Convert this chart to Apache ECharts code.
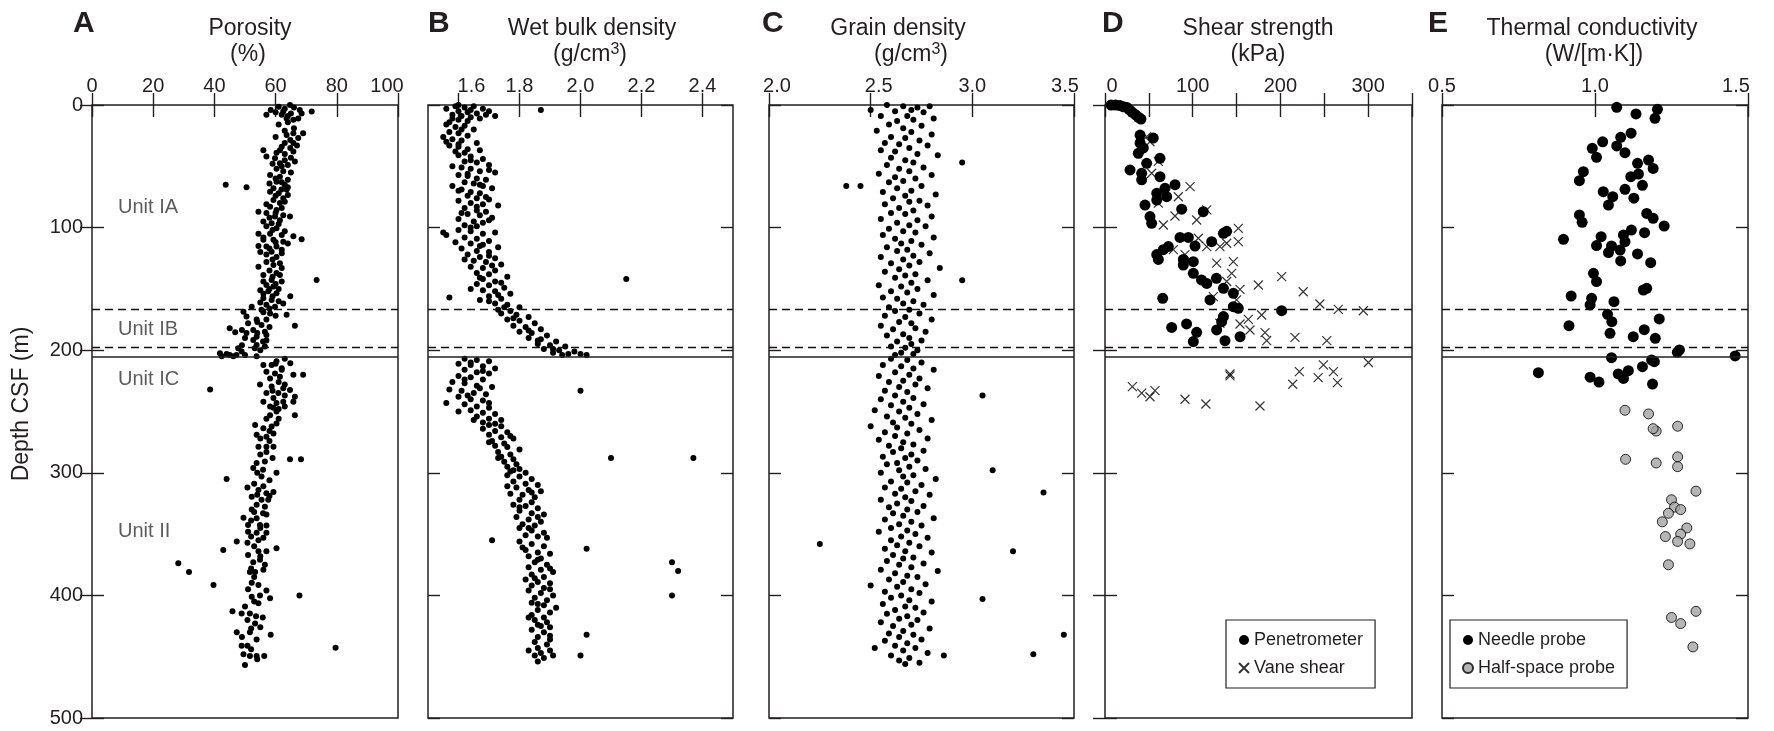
<!DOCTYPE html>
<html>
<head>
<meta charset="utf-8">
<script src="https://cdn.jsdelivr.net/npm/echarts@6/dist/echarts.min.js"></script>
<style>
html,body{margin:0;padding:0;background:#fff;}
#chart{width:1774px;height:731px;}
</style>
</head>
<body>
<div id="chart"></div>
<script>
// ---- Measurements: [value, depth (m CSF)] ----
const porosity = [
[61,1.4],[64.7,0],[67.9,4],[71.8,5.4],[57,8],[58.4,4],[62,8],[65.8,12],[63.6,11],[67.4,11],[62.5,5.4],[65,7],[68.5,7],[64,14],
[65.8,23],[69,23],[63.6,24.5],[67.4,27],[64.8,28.5],[63,31],[65.8,31],[62,34],[64.8,35],[61.4,37],[65.8,38],[56,37],[60.3,39],
[57,42],[59.8,43.5],[63,45],[66.3,46],[61.4,47.6],[64,49],[60.3,52],[62.5,54],[58.2,57],[61.4,58.5],[64,61],[60.3,62.5],[63,65],[59.3,68],[61.9,69],[58.2,70.7],[63.6,69],
[43.7,65],[50.5,67],
[61,72],[64,73.4],[62.5,76],[59.3,77.5],[61.4,80],[58.2,83],[60.3,85.6],[54.4,87],[57,88],[62.5,90],[59.8,91],[64.7,91],[56,95],[58.7,96.5],[61.4,94],[57,99],[60.3,100.6],
[54.4,105],[58.2,105],[62,106],[65.8,107],[68.5,109.6],[56,110],[59.3,110],[62.5,111.5],[54.4,115],[57,115.5],[60.3,115.5],[58.7,119.6],[62,118],[57,122],[60.3,124],[61.4,129],[59.3,130.5],
[73.4,142.7],
[54.4,132],[56,138.7],[60.3,137],[61.4,138.7],[58.7,142.7],[57,146.8],[59.3,148],[55,151],[57.6,152],[60.3,153.6],[56,157.7],[64.8,156],[58.7,159],[62.5,162],[57,163],[59.8,164.5],[52.2,164.5],
[49.5,168.6],[55.4,167],[58.2,170],[63.6,171],[50.5,172.6],[53.8,175],[57,175],[51,178],[55.4,179.5],[66.3,180],[45,182],[49,183.5],[52.7,183.5],[56.5,185],[46.8,185.4],[50.5,186],[53.8,189],[57,187.6],[52.7,191.7],[55.9,193],[53.8,195.8],[56.5,197],[53.2,198.5],
[47.8,198.5],[41.8,202.5],[45,204],[47.2,204],[48.9,201],[42.4,205],[46.2,205],[50,204],[53.8,205],
[63,207],[60.3,209],[56,212],[58.7,212],[64.8,210.7],[62,214.8],[57,217.5],[59.8,219],[65.8,220],[69,220],[58.2,223],[61.4,221.6],[54.9,228],[58.7,229.7],[62.5,231],[38.6,232],[57,235],[60.9,235],[64.7,232.5],[66.3,238],[59.3,239],[56,242],[62.5,242],[65.8,242],[58.2,246],[60.3,250],[66.3,253],[58.2,253],
[60.3,243],[59.3,247],[60.3,259.7],[53.3,261],[56,263.7],[58.7,262.3],[53.8,269],[57,270.5],[59.3,268],[54.4,278.7],[57,278.7],[59.3,278.7],[57,283],[64.7,289],[68.3,289],[53.8,292],[56.5,290.7],[52.7,296],[55.9,297.6],[60.3,300],[55.4,303],[44,305],[50.8,312],[54.4,314],[57,316.7],[59.3,315.6],[52.2,319.5],[55.4,322],[57.6,322],[53.8,326],[56.5,327.6],[52.2,330],[55.9,333],[49.5,336.6],[53.8,337],[51,342.6],[54.9,342.6],[57,343],[51,348],[53.8,349],[57,349],[50.8,357],[54.4,355],[47.3,356],[42.9,363],[60.3,361.6],[54.4,364],[57,364],[54.9,371],[56.5,375],[52.7,373],[28.2,373.8],[31.7,381],[51.6,381],[53.3,381],[39.7,391.5],[52.2,389.6],[54.4,391.5],[52.2,401],[54.9,400],[58.2,402.3],[67.8,400],[54.4,406.5],[45.9,413],[48.9,414.7],[51.6,414.7],[53.6,417],[50.8,420],[55.8,418],[53.3,423],[47.3,430],[51.6,430],[58.4,432],[53.8,436],[48.9,441],[50.8,441],[79.6,442.6],[49.5,448],[51.6,449.4],[53.8,449.4],[56.3,449.4],[50,456.8],
[63,3],[66,2],[60,6],[64,9],[61,16],[66,19],[63,21],[60,26],[67,33],[63,40],[65,43],[59,48],[62,50],[65,55],[60,60],[62,63],[58,64],[64,67],[60,74],[63,79],[57,81],[62,84],[60,88],[58,92],[61,97],[59,102],[63,103],[56,108],[60,112],[64,113],[58,117],[55,120],[62,121],[59,126],[57,128],[62,133],[58,135],[59,140],[62,144],[56,144],[60,146],[58,150],[61,150],[56,154],[59,156],[61,160],[55,161],[58,166],[56,169],[60,172],[54,177],[58,181],[54,186],[50,190],[57,192],[49,196],[55,200],[44,203],
[60,211],[62,216],[61,226],[63,228],[59,233],[63,237],[61,248],[63,246],[57,256],[61,256],[58,266],[55,272],[58,274],[55,285],[59,288],[54,300],[58,306],[53,309],[56,311],[54,318],[58,319],[53,332],[57,334],[52,339],[55,345],[52,352],[56,353],[53,360],[51,367],[55,368],[52,378],[56,379],[53,385],[57,396],[51,395],[53,405],[50,409],[52,427],[49,434],[55,426],[52,444],[54,452]
];

const wetBulkDensity = [
[1.56,3],[1.59,1],[1.62,2],[1.65,1],[1.68,3],[1.6,5],[1.63,6],[1.66,7],[1.7,5],[1.58,8],[1.61,9],[1.64,10],[1.67,11],[1.72,9],[1.6,12],[1.63,13],[1.57,14],[1.87,4],
[1.56,16],[1.59,18],[1.62,17],[1.65,20],[1.57,22],[1.6,23],[1.63,25],[1.55,26],[1.58,28],[1.61,29],[1.66,31],[1.57,33],[1.6,34],[1.63,36],[1.59,38],[1.62,39],[1.67,37],
[1.6,41],[1.64,42],[1.68,44],[1.62,46],[1.66,47],[1.7,49],[1.61,51],[1.64,52],[1.67,54],[1.72,55],[1.6,57],[1.63,58],[1.66,60],[1.69,61],[1.62,63],[1.65,64],[1.58,66],[1.68,66],[1.71,68],[1.61,69],[1.64,71],[1.67,72],[1.63,74],[1.66,76],[1.7,77],[1.6,78],[1.64,80],[1.68,81],[1.73,82],[1.62,84],[1.66,86],[1.69,87],[1.63,89],[1.67,90],[1.71,92],[1.6,93],[1.65,95],[1.68,96],[1.62,98],[1.66,99],
[1.55,104],[1.56,106],[1.6,102],[1.64,103],[1.68,105],[1.72,104],[1.62,108],[1.66,109],[1.7,111],[1.64,113],[1.68,114],[1.73,116],[1.61,117],[1.66,119],[1.7,120],[1.63,122],[1.67,124],[1.72,125],[1.65,127],[1.69,128],[1.74,130],[1.64,132],[1.68,133],[1.72,135],[1.66,137],[1.7,138],[1.76,140],[1.68,142],[1.72,144],[1.66,146],[1.7,147],[1.75,149],[1.68,151],[1.72,152],[1.77,154],[1.7,156],[1.57,157],[1.74,158],[1.7,160],[2.15,142],
[1.72,162],[1.76,163],[1.8,165],[1.73,167],[1.77,168],[1.74,170],[1.79,171],[1.83,173],[1.76,175],[1.8,176],[1.85,178],[1.78,180],[1.82,181],[1.87,183],[1.8,185],[1.84,186],[1.89,188],[1.83,190],[1.87,191],[1.92,193],[1.86,195],[1.9,196],[1.95,197],[1.88,199],[1.93,200],[1.98,201],[1.91,202],[1.96,203],[2.0,203],[1.94,204],[2.02,204],
[1.62,207],[1.66,208],[1.7,209],[1.6,211],[1.64,212],[1.68,213],[1.72,215],[1.62,216],[1.66,218],[1.7,219],[1.6,221],[1.64,222],[1.68,224],[1.58,226],[1.62,227],[1.66,229],[1.71,230],[1.57,232],[1.61,233],[1.65,235],[1.69,236],[2.0,233],[1.6,238],[1.64,240],[1.68,241],[1.56,243],[1.62,244],[1.66,246],[1.7,247],[1.64,249],[1.68,251],[1.72,252],[1.66,254],[1.7,256],[1.74,257],[1.68,259],
[1.7,261],[1.74,262],[1.68,264],[1.72,266],[1.76,267],[1.7,269],[1.74,271],[1.78,272],[1.71,274],[1.75,276],[1.72,278],[1.76,279],[1.8,281],[1.73,283],[1.77,285],[1.74,287],[1.78,289],[2.1,288],[2.37,288],[1.75,291],[1.79,293],[1.76,295],[1.8,297],[1.77,299],
[1.76,302],[1.8,303],[1.84,305],[1.78,307],[1.82,309],[1.86,310],[1.79,312],[1.83,314],[1.87,315],[1.77,317],[1.81,318],[1.85,320],[1.8,322],[1.84,324],[1.78,326],[1.82,327],[1.86,329],[1.8,331],[1.84,333],[1.88,334],[1.79,336],[1.83,338],[1.87,340],[1.81,342],[1.85,343],[1.8,345],[1.84,347],[1.88,349],[1.82,351],[1.86,352],[1.71,355],[1.8,356],[1.84,358],[1.88,360],[2.02,362],[1.82,363],[1.86,365],[1.9,366],[1.83,368],[1.87,370],[2.3,373],[1.85,373],[1.89,375],[1.83,377],[1.87,379],[2.32,380],[1.91,381],[1.84,383],[1.88,385],[1.82,387],[1.86,389],[1.9,390],[1.84,392],[1.88,394],[1.83,396],[1.87,398],[2.3,400],[1.91,400],[1.85,402],[1.89,404],[1.84,406],[1.88,408],[1.92,410],[1.86,412],[1.9,414],[1.84,416],[1.88,418],[1.85,420],[1.89,422],[1.86,424],[1.9,426],[1.84,428],[1.88,430],[2.02,432],[1.86,434],[1.9,436],[1.85,438],[1.89,440],[1.86,443],[1.9,445],[1.87,447],[1.91,449],[2.0,449],[1.88,451],[1.86,454],
[1.6,0],[1.64,4],[1.69,8],[1.58,11],[1.61,20],[1.56,30],[1.6,32],[1.64,45],[1.58,50],[1.7,53],[1.63,56],[1.67,65],[1.6,70],[1.69,75],[1.66,83],[1.61,88],[1.7,94],[1.64,100],[1.59,112],[1.67,115],[1.7,123],[1.62,126],[1.71,131],[1.67,141],[1.74,145],[1.64,150],[1.73,155],[1.67,159],[1.75,165],[1.78,174],[1.83,184],[1.86,192],[1.91,199],
[1.64,210],[1.68,217],[1.62,224],[1.67,231],[1.63,237],[1.7,243],[1.6,250],[1.65,257],[1.72,260],[1.7,275],[1.77,270],[1.73,288],[1.78,298],[1.82,300],[1.76,311],[1.84,316],[1.8,328],[1.86,336],[1.83,345],[1.89,353],[1.81,361],[1.86,371],[1.9,378],[1.85,386],[1.9,395],[1.86,407],[1.83,418],[1.87,425],[1.9,433],[1.83,445],[1.85,449]
];

const grainDensity = [
[2.58,0],[2.66,1],[2.73,2],[2.79,1],[2.5,4],[2.62,5],[2.7,4],[2.76,6],[2.55,9],[2.68,9],[2.81,11],[2.63,13],[2.71,12],[2.59,16],[2.75,17],[2.66,19],[2.53,21],[2.7,22],[2.8,24],[2.6,26],[2.67,27],[2.74,29],[2.57,31],[2.64,32],[2.78,33],[2.69,35],[2.55,37],[2.62,38],[2.73,40],[2.83,41],[2.6,43],[2.67,45],[2.95,47],[2.71,47],[2.58,49],[2.76,51],[2.64,52],[2.69,54],[2.54,56],[2.8,57],[2.62,59],[2.72,60],[2.66,62],[2.59,63],[2.38,66],[2.45,66],[2.75,66],[2.63,68],[2.7,70],[2.56,71],[2.82,73],[2.67,74],[2.61,76],[2.74,78],[2.69,79],[2.57,81],[2.78,82],[2.64,84],[2.71,86],[2.6,88],[2.67,89],[2.8,91],[2.55,93],[2.73,94],[2.63,96],[2.69,98],[2.77,99],[2.59,101],[2.66,103],[2.72,104],[2.56,106],[2.81,108],[2.62,109],[2.7,111],[2.65,113],[2.75,114],[2.58,116],[2.68,118],[2.63,119],[2.79,121],[2.71,123],[2.55,124],[2.66,126],[2.74,128],[2.6,129],[2.69,131],[2.84,133],[2.64,134],[2.57,136],[2.72,138],[2.67,139],[2.62,141],[2.95,143],[2.78,143],[2.7,145],[2.54,147],[2.65,148],[2.73,150],[2.6,152],[2.68,153],[2.81,155],[2.56,157],[2.63,158],[2.71,160],[2.66,162],[2.76,163],[2.59,165],[2.69,167],[2.62,168],[2.74,170],[2.57,172],[2.67,173],[2.8,175],[2.64,177],[2.7,178],[2.55,180],[2.72,182],[2.61,183],[2.77,185],[2.66,187],[2.58,188],[2.69,190],[2.75,192],[2.63,193],[2.7,195],[2.6,197],[2.67,198],[2.73,200],[2.65,202],[2.71,203],[2.62,204],
[2.6,207],[2.68,208],[2.75,210],[2.56,212],[2.65,213],[2.71,215],[2.81,216],[2.62,218],[2.69,220],[2.54,221],[2.74,223],[2.66,225],[2.59,226],[2.72,228],[2.64,230],[2.78,231],[2.57,233],[2.68,234],[3.05,237],[2.62,237],[2.71,239],[2.55,240],[2.66,242],[2.76,244],[2.6,245],[2.69,247],[2.52,249],[2.64,250],[2.73,252],[2.58,254],[2.67,255],[2.8,257],[2.61,259],[2.7,260],[2.5,262],[2.63,263],[2.74,265],[2.57,267],[2.68,268],[2.62,270],[2.78,272],[2.54,273],[2.66,275],[2.71,277],[2.59,278],[2.65,280],[2.76,282],[2.61,283],[2.7,285],[2.56,287],[2.67,288],[2.73,290],[2.63,292],[2.58,293],[2.69,295],[3.1,298],[2.77,297],[2.64,298],[2.55,300],[2.71,302],[2.66,303],[2.82,305],[2.6,307],[2.68,308],[2.75,310],[2.57,312],[2.65,313],[3.35,316],[2.72,315],[2.62,317],[2.79,318],[2.67,320],[2.55,322],[2.7,323],[2.63,325],[2.76,327],[2.59,328],[2.68,330],[2.73,332],[2.61,333],[2.66,335],[2.81,337],[2.57,338],[2.7,340],[2.64,342],[2.75,343],[2.6,345],[2.68,347],[2.54,348],[2.72,350],[2.65,352],[2.78,353],[2.25,358],[2.6,355],[2.69,357],[2.63,359],[2.74,360],[2.57,362],[3.2,364],[2.67,364],[2.8,365],[2.61,367],[2.71,369],[2.66,370],[2.58,372],[2.76,374],[2.64,375],[2.7,377],[2.55,379],[2.83,380],[2.62,382],[2.68,384],[2.73,385],[2.59,387],[2.66,389],[2.5,392],[2.77,391],[2.63,393],[2.7,395],[2.57,397],[2.74,398],[2.65,400],[3.05,403],[2.6,402],[2.69,404],[2.8,405],[2.56,407],[2.67,409],[2.72,410],[2.62,412],[2.76,414],[2.58,415],[2.68,417],[2.64,419],[2.73,420],[2.55,422],[2.7,424],[2.61,425],[2.79,427],[2.66,429],[3.45,432],[2.59,431],[2.71,432],[2.64,434],[2.75,436],[2.57,437],[2.68,439],[2.62,441],[2.52,443],[2.72,443],[2.66,445],[2.78,447],[3.3,448],[2.86,449],[2.6,449],[2.69,451],[2.64,453],[2.74,455],[2.67,456]
];

const penetrometer = [
[7,0],[12,0],[17,0.5],[21,1.5],[25,2],[28,4],[31,6],[35,8],[38,10],[41,11.5],
[40,24.5],[55,27],[40,31],[43.7,35],[38,39.4],[62.7,43.5],[47.5,47.6],[28.5,53],[41.8,55.7],[41.8,61],[62.7,58.5],[79.8,65],[68.4,68],[59,72],[70.3,74.8],[59,77.5],[45.6,81.6],[87.4,85],[112,87],[51.3,91],[53.2,96.5],[85.5,108],[95,108],[102.6,115],[72.2,115.5],[66.5,118],[59,122],[60.8,126],[89.3,126],[89.3,130.5],[100.7,127.8],[121.6,111.5],[135,104.7],[138.7,103],[100.7,137.3],[110,142.7],[116,145.5],[127,141.4],[135,149.5],[146.3,153.6],[119.7,159],[65.8,157.7],[146.3,164.5],[152,165.8],[201.4,167.8],[135,172.6],[133,176.7],[76,181.4],[93,178.6],[104.5,185.4],[127.3,183.5],[100.7,193],[136.8,192.2],[154,189]
];

const vaneShear = [
[47.5,25.8],[51.3,30],[60.8,46],[53.2,55.7],[97,66.6],[83.6,74.8],[60.8,80],[79.8,90.5],[116,85.6],[104.5,93.8],[66.5,97.9],[77.9,118],[91.2,122],[106.4,108.7],[116,115.5],[131,115.5],[138.7,112.8],[152,100.6],[152,111.5],[127.3,129],[146.3,127.8],[144.4,137.3],[138.7,144],[153.9,150.4],[174.8,146.8],[201.4,140],[123.5,156.3],[150,159],[226,152.3],[245,162.3],[266,166.7],[294.5,167.8],[178.6,171.3],[163.4,174.8],[153.9,178.6],[165.3,183.5],[182.4,185.7],[184.3,192.2],[216.6,189.5],[252.8,192.2],[131,178],
[142.5,219.4],[142.5,221],[31.2,229.7],[41.8,235],[51.3,238],[57,233],[91.2,240],[115,243.9],[176.7,245.5],[214,227.8],[221.6,217.5],[249,212],[243,222.4],[260.4,217.5],[265,226.5],[300.3,210]
];

const needleProbe = [
[1.071,1.9],[1.134,7.3],[1.204,3.5],[1.196,10.9],[1.118,23],[1.084,26.4],[1.025,30],[1.071,33.4],[0.991,35.3],[1.098,38.9],[1.005,42.7],[1.139,47.6],[1.175,44.9],[1.19,51.7],[0.962,54.4],[0.949,61.7],[1.117,58.5],[1.142,56.3],[1.155,65.5],[1.027,70.7],[1.058,74.8],[1.044,81.6],[1.098,68.8],[1.127,76],[0.949,89.7],[0.958,95.7],[1.169,88.4],[1.19,92.4],[1.226,98.7],[0.897,109.6],[1.02,107.4],[1.119,102],[1.162,104.1],[1.093,106],[1.005,114.7],[1.054,115],[1.098,111.5],[1.044,120.4],[1.082,118.3],[1.139,121.5],[1.084,127.2],[1.182,128.6],[0.995,137.3],[1.005,144],[1.158,150.9],[1.169,149.5],[0.922,155.8],[0.989,157.7],[0.984,163.1],[1.062,160.4],[1.041,170.7],[1.055,176.7],[1.21,174.5],[0.915,180],[1.049,186.2],[1.161,183.3],[1.125,189],[1.197,190.3],[1.269,201.7],[1.276,199.8],[1.458,204.7],[1.054,206.1],[1.194,209.4],[1.155,213.4],[0.815,218.3],[0.984,222],[1.013,226],[1.076,219.4],[1.109,216.7],[1.093,223],[1.188,227.6],[1.185,208]
];

const halfSpaceProbe = [
[1.098,249],[1.175,252],[1.27,262],[1.2,266],[1.19,264],[1.1,289],[1.27,287],[1.27,295],[1.2,292],[1.33,315],[1.25,322],[1.26,328],[1.24,333],[1.28,330],[1.22,340],[1.3,345],[1.28,350],[1.23,352],[1.27,356],[1.31,358],[1.24,375],[1.33,413],[1.25,418],[1.28,423],[1.32,442]
];

// Lithologic unit boundaries (m CSF) and unit names with label depth
const dashedBoundaries = [166.5, 197.5];
const solidBoundary = 205.5;
const unitLabels = [['Unit IA', 84], ['Unit IB', 183], ['Unit IC', 223.5], ['Unit II', 348]];

// Tick label values for each panel
const porosityTicks = [0, 20, 40, 60, 80, 100];
const wetBulkTicks = [1.6, 1.8, 2.0, 2.2, 2.4];
const grainTicks = [2.0, 2.5, 3.0, 3.5];
const shearTicks = [0, 100, 200, 300];
const thermalTicks = [0.5, 1.0, 1.5];
const depthTicks = [0, 100, 200, 300, 400, 500];

const FONT = '"Liberation Sans", Arial, Helvetica, sans-serif';
const INK = '#231f20';
const TOP = 105, HEIGHT = 613;

// Panel layout; shift = horizontal nudge (px) of individual tick labels
const panels = [
  {letter:'A', title:'Porosity', unit:'(%)', left:92, width:306, min:0, max:100,
   labels:porosityTicks, ticks:porosityTicks, fmt:v=>String(v), shift:{100:-11}, tx:250, ux:248},
  {letter:'B', title:'Wet bulk density', unit:'g/cm3', left:428, width:305, min:1.5, max:2.5,
   labels:wetBulkTicks, ticks:wetBulkTicks, fmt:v=>v.toFixed(1), shift:{1.6:13}, tx:592, ux:590},
  {letter:'C', title:'Grain density', unit:'g/cm3', left:769, width:305, min:2.0, max:3.5,
   labels:grainTicks, ticks:grainTicks, fmt:v=>v.toFixed(1), shift:{2:8, 2.5:8, 3.5:-9}, tx:898, ux:911},
  {letter:'D', title:'Shear strength', unit:'(kPa)', left:1105, width:307, min:0, max:350,
   labels:shearTicks, ticks:[0,50,100,150,200,250,300,350], fmt:v=>String(v), shift:{0:7}, tx:1258, ux:1258},
  {letter:'E', title:'Thermal conductivity', unit:'(W/[m·K])', left:1442, width:306, min:0.5, max:1.5,
   labels:thermalTicks, ticks:thermalTicks, fmt:v=>v.toFixed(1), shift:{1.5:-12}, tx:1592, ux:1594}
];
const letterX = [73, 428, 762, 1102, 1428];

const grids = [], xAxes = [], yAxes = [];
const tickStyle = {color: INK, width: 1.4};

panels.forEach((p, i) => {
  grids.push({left: p.left, top: TOP, width: p.width, height: HEIGHT,
    show: true, borderColor: INK, borderWidth: 1.5, backgroundColor: 'transparent'});
  const rich = {};
  Object.keys(p.shift).forEach((k, j) => {
    const s = p.shift[k];
    rich['s' + j] = {fontSize: 20, fontFamily: FONT, color: INK,
      padding: s > 0 ? [0, 0, 0, 2 * s] : [0, -2 * s, 0, 0]};
  });
  const shiftKeys = Object.keys(p.shift).map(Number);
  const base = {gridIndex: i, type: 'value', min: p.min, max: p.max,
    axisLine: {show: false}, splitLine: {show: false},
    axisTick: {show: true, inside: true, length: 12, lineStyle: tickStyle, customValues: p.ticks}};
  xAxes.push(Object.assign({}, base, {position: 'top',
    axisLabel: {show: true, margin: 9, fontSize: 20, fontFamily: FONT, color: INK,
      customValues: p.labels,
      formatter: v => {
        const j = shiftKeys.findIndex(k => Math.abs(k - v) < 1e-9);
        return j >= 0 ? '{s' + j + '|' + p.fmt(v) + '}' : p.fmt(v);
      },
      rich: rich}}));
  xAxes.push(Object.assign({}, base, {position: 'bottom', axisLabel: {show: false}}));
  const ybase = {gridIndex: i, type: 'value', inverse: true, min: 0, max: 500,
    axisLine: {show: false}, splitLine: {show: false},
    axisTick: {show: true, inside: true, length: 12, lineStyle: tickStyle, customValues: depthTicks}};
  yAxes.push(Object.assign({}, ybase, {position: 'left',
    axisLabel: {show: i === 0, margin: 9, fontSize: 20, fontFamily: FONT, color: INK, customValues: depthTicks}}));
  yAxes.push(Object.assign({}, ybase, {position: 'right', axisLabel: {show: false}}));
});

// Unit boundary lines shared by every panel
const boundaryLines = {
  silent: true, symbol: ['none', 'none'], animation: false,
  label: {show: false},
  lineStyle: {color: '#111', width: 1.3, type: [8, 5]},
  emphasis: {disabled: true},
  data: dashedBoundaries.map(d => ({yAxis: d}))
    .concat([{yAxis: solidBoundary, lineStyle: {type: 'solid', width: 1.7, color: '#222'}}])
};

function dots(name, i, data, extra) {
  return Object.assign({
    name: name, type: 'scatter', xAxisIndex: 2 * i, yAxisIndex: 2 * i,
    data: data, clip: false, animation: false, silent: true,
    symbol: 'circle', symbolSize: 6, itemStyle: {color: '#000', opacity: 1}
  }, extra || {});
}

const crossPath = 'path://M0,0L10,10M10,0L0,10';

const series = [
  dots('Porosity', 0, porosity, {markLine: boundaryLines}),
  {type: 'scatter', xAxisIndex: 0, yAxisIndex: 0, silent: true, animation: false,
   symbolSize: 0, data: unitLabels.map(u => [8.5, u[1], u[0]]),
   label: {show: true, position: 'right', distance: 0, formatter: q => q.data[2],
     fontSize: 20, fontFamily: FONT, color: '#333'}},
  dots('Wet bulk density', 1, wetBulkDensity, {markLine: boundaryLines}),
  dots('Grain density', 2, grainDensity, {markLine: boundaryLines}),
  dots('Penetrometer', 3, penetrometer, {symbolSize: 11, markLine: boundaryLines}),
  dots('Vane shear', 3, vaneShear, {symbol: crossPath, symbolSize: 9,
    itemStyle: {color: 'rgba(0,0,0,0)', borderColor: '#000', borderWidth: 1.2}}),
  dots('Needle probe', 4, needleProbe, {symbolSize: 11, markLine: boundaryLines}),
  dots('Half-space probe', 4, halfSpaceProbe, {symbolSize: 10,
    itemStyle: {color: '#a3a3a3', borderColor: '#000', borderWidth: 1}})
];

const legendCommon = {orient: 'vertical', borderColor: INK, borderWidth: 1.2, borderRadius: 0,
  padding: [11, 12, 11, 12], itemGap: 10, itemWidth: 10, itemHeight: 10,
  textStyle: {fontSize: 18, fontFamily: FONT, color: INK}, selectedMode: false};
const legends = [
  Object.assign({}, legendCommon, {left: 1226, top: 620, data: ['Penetrometer', 'Vane shear']}),
  Object.assign({}, legendCommon, {left: 1450, top: 620, data: ['Needle probe', 'Half-space probe']})
];

// Panel letters, titles and units
const graphics = [];
panels.forEach((p, i) => {
  graphics.push({type: 'text', x: letterX[i], y: 24, silent: true,
    style: {text: p.letter, font: 'bold 30px ' + FONT, fill: INK, textVerticalAlign: 'middle'}});
  graphics.push({type: 'text', x: p.tx, y: 29, silent: true,
    style: {text: p.title, font: '23px ' + FONT, fill: INK, textAlign: 'center', textVerticalAlign: 'middle'}});
  if (p.unit === 'g/cm3') {
    graphics.push({type: 'text', x: p.ux, y: 55, silent: true,
      style: {text: '{a|(g/cm}{b|3}{a|)}', textAlign: 'center', textVerticalAlign: 'middle',
        rich: {a: {fontSize: 23, fontFamily: FONT, fill: INK, color: INK, lineHeight: 26},
               b: {fontSize: 16, fontFamily: FONT, fill: INK, color: INK, verticalAlign: 'top', lineHeight: 26, padding: [0, 0, 8, 0]}}}});
  } else {
    graphics.push({type: 'text', x: p.ux, y: 55, silent: true,
      style: {text: p.unit, font: '23px ' + FONT, fill: INK, textAlign: 'center', textVerticalAlign: 'middle'}});
  }
});
graphics.push({type: 'text', x: 22, y: 404, rotation: Math.PI / 2, silent: true,
  style: {text: 'Depth CSF (m)', font: '23px ' + FONT, fill: INK, textAlign: 'center', textVerticalAlign: 'middle'}});

const chart = echarts.init(document.getElementById('chart'), null, {renderer: 'canvas'});
chart.setOption({
  backgroundColor: '#fff',
  animation: false,
  textStyle: {fontFamily: FONT},
  grid: grids, xAxis: xAxes, yAxis: yAxes,
  legend: legends,
  series: series,
  graphic: graphics
});
</script>
</body>
</html>
